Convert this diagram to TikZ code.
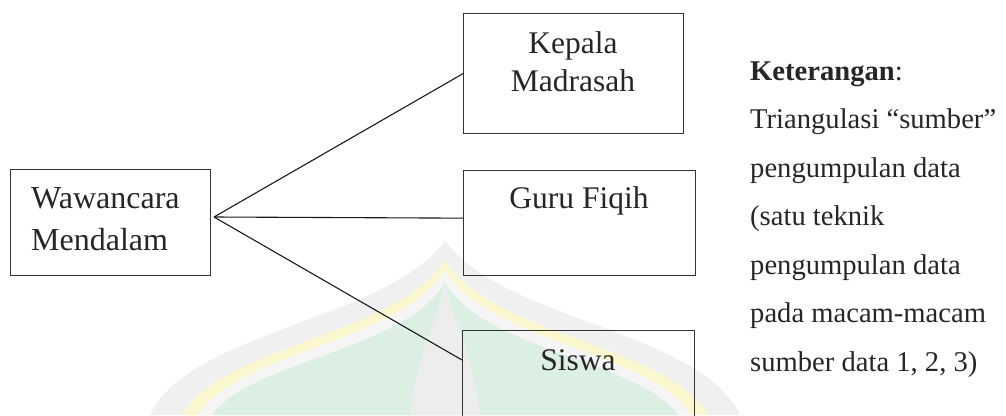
\documentclass[tikz,border=0pt]{standalone}
\usepackage{fontspec}
\setmainfont{Liberation Serif}
\definecolor{domegreen}{HTML}{DCEFE3}
\definecolor{domeyellow}{HTML}{FBF7CF}
\begin{document}
\begin{tikzpicture}[x=1pt,y=-1pt,
  box/.style={draw=black!80, line width=1.3pt, inner sep=0pt, anchor=north west},
  link/.style={draw=black!90, line width=1.1pt},
  boxtext/.style={inner sep=0pt, anchor=base, font=\fontsize{31.5}{38}\selectfont, text=black!85},
  leftword/.style={inner sep=0pt, anchor=base west, font=\fontsize{32}{40}\selectfont, text=black!85},
  note/.style={inner sep=0pt, anchor=base west, font=\fontsize{28.6}{35}\selectfont, text=black!85}]
\useasboundingbox (0,0) rectangle (1006,415);
\clip (0,0) rectangle (1006,415);

% faint dome emblem in the background
\fill[black!6] (150,415) .. controls (190,330) and (390,320) .. (445,240)
  .. controls (500,320) and (700,330) .. (740,415) -- cycle;
\fill[domeyellow] (182,415) .. controls (222,345) and (400,335) .. (445,260)
  .. controls (490,335) and (668,345) .. (708,415) -- cycle;
\fill[black!4] (198,415) .. controls (238,352) and (403,342) .. (445,270)
  .. controls (487,342) and (652,352) .. (692,415) -- cycle;
\fill[domegreen] (212,415) .. controls (252,360) and (408,350) .. (445,282)
  .. controls (482,350) and (638,360) .. (678,415) -- cycle;
\fill[black!7] (410,415) .. controls (418,350) and (438,320) .. (445,282)
  .. controls (452,320) and (472,350) .. (480,415) -- cycle;

% boxes
\node[box, minimum width=200pt, minimum height=106pt] (waw) at (10,169) {};
\node[box, minimum width=220pt, minimum height=120pt] (kepala) at (463,13) {};
\node[box, minimum width=232pt, minimum height=105pt] (guru) at (463,170) {};
\node[box, minimum width=232pt, minimum height=120pt] (siswa) at (462,330) {};

% box labels
\node[leftword] (waw1) at (31,208) {Wawancara};
\node[leftword] (waw2) at (31,250) {Mendalam};
\node[boxtext] (kep1) at (573,53) {Kepala};
\node[boxtext] (kep2) at (573,91) {Madrasah};
\node[boxtext] (gurutext) at (579,208) {Guru Fiqih};
\node[boxtext] (siswatext) at (578,370) {Siswa};

% connectors from the interview hub
\coordinate (hub) at (214,217);
\draw[link] (hub) -- (kepala.west);
\draw[link] (hub) -- ([yshift=5pt]guru.west);
\draw[link] (hub) -- ([yshift=-30pt]siswa.north west);

% explanatory notes
\node[note] (n1) at (750,80) {\textbf{Keterangan}:};
\node[note] (n2) at (750,128.5) {Triangulasi “sumber”};
\node[note] (n3) at (750,177) {pengumpulan data};
\node[note] (n4) at (750,225.5) {(satu teknik};
\node[note] (n5) at (750,274) {pengumpulan data};
\node[note] (n6) at (750,322.5) {pada macam-macam};
\node[note] (n7) at (750,371) {sumber data 1, 2, 3)};
\end{tikzpicture}
\end{document}
